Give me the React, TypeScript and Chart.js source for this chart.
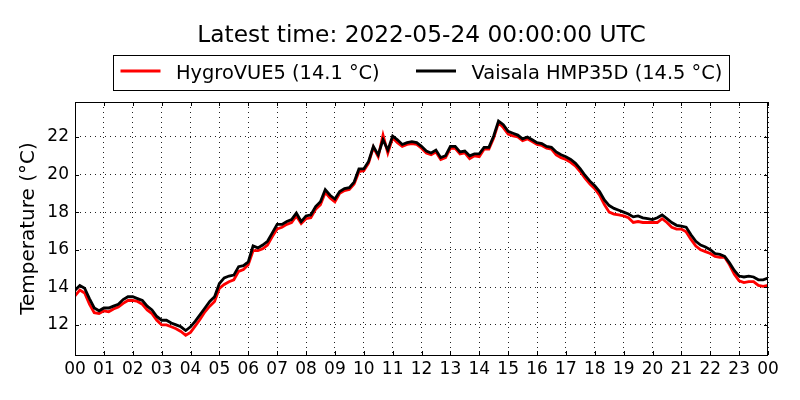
import { useEffect, useRef } from 'react';
import Chart from 'chart.js/auto';

// 10-minute readings, 00:00 to 24:00 (145 values)
const hygroVUE5 = [
  13.55, 13.85, 13.7, 13.1, 12.65, 12.6,
  12.75, 12.7, 12.85, 12.95, 13.15, 13.3,
  13.3, 13.25, 13.1, 12.8, 12.6, 12.25,
  12.0, 12.0, 11.9, 11.8, 11.65, 11.45,
  11.6, 11.95, 12.3, 12.7, 13.0, 13.25,
  13.95, 14.15, 14.3, 14.4, 14.85, 14.95,
  15.2, 15.95, 15.95, 16.05, 16.25, 16.7,
  17.1, 17.2, 17.35, 17.45, 17.8, 17.4,
  17.65, 17.7, 18.15, 18.4, 19.05, 18.75,
  18.55, 19.0, 19.15, 19.2, 19.5, 20.15,
  20.2, 20.6, 21.45, 20.95, 22.1, 21.15,
  21.95, 21.7, 21.5, 21.6, 21.65, 21.6,
  21.4, 21.15, 21.05, 21.2, 20.8, 20.9,
  21.4, 21.4, 21.1, 21.15, 20.85, 21.0,
  20.95, 21.35, 21.35, 21.95, 22.75, 22.5,
  22.15, 22.05, 22.0, 21.8, 21.9, 21.75,
  21.6, 21.55, 21.4, 21.35, 21.05, 20.9,
  20.8, 20.65, 20.45, 20.15, 19.8, 19.5,
  19.25, 18.9, 18.4, 18.0, 17.9, 17.85,
  17.8, 17.7, 17.45, 17.5, 17.45, 17.45,
  17.45, 17.45, 17.65, 17.45, 17.2, 17.1,
  17.1, 16.95, 16.55, 16.2, 16.0, 15.9,
  15.8, 15.65, 15.6, 15.6, 15.2, 14.7,
  14.35, 14.25, 14.3, 14.3, 14.1, 14.05,
  14.1,
];

const vaisalaHMP35D = [
  13.85, 14.1, 13.95, 13.4, 12.9, 12.75,
  12.9, 12.9, 13.0, 13.1, 13.35, 13.5,
  13.5, 13.4, 13.3, 13.0, 12.8, 12.45,
  12.25, 12.25, 12.1, 12.0, 11.9, 11.7,
  11.9, 12.2, 12.55, 12.9, 13.25, 13.5,
  14.2, 14.5, 14.6, 14.65, 15.1, 15.15,
  15.35, 16.2, 16.1, 16.25, 16.45, 16.9,
  17.35, 17.35, 17.5, 17.6, 17.95, 17.5,
  17.8, 17.85, 18.3, 18.55, 19.2, 18.9,
  18.7, 19.1, 19.25, 19.3, 19.6, 20.3,
  20.3, 20.7, 21.5, 21.05, 21.85, 21.3,
  22.05, 21.85, 21.6, 21.7, 21.75, 21.7,
  21.5, 21.25, 21.15, 21.3, 20.9, 21.0,
  21.5, 21.5, 21.2, 21.25, 21.0, 21.1,
  21.1, 21.45, 21.45, 22.05, 22.85, 22.65,
  22.3, 22.2, 22.1, 21.9, 22.0, 21.85,
  21.7, 21.65, 21.5, 21.45, 21.2, 21.05,
  20.95, 20.8, 20.6, 20.3, 19.95, 19.65,
  19.4, 19.1, 18.65, 18.35, 18.2, 18.1,
  18.0, 17.9, 17.75, 17.8, 17.7, 17.65,
  17.6, 17.7, 17.85, 17.65, 17.45, 17.3,
  17.25, 17.2, 16.8, 16.45, 16.25, 16.15,
  16.0, 15.8, 15.75, 15.65, 15.3, 14.9,
  14.6, 14.55, 14.6, 14.55, 14.4, 14.4,
  14.5,
];

const hours = hygroVUE5.map((_, i) => i / 6);
const seriesNames = ['HygroVUE5 (14.1 °C)', 'Vaisala HMP35D (14.5 °C)'];
const seriesColors = ['#ff0000', '#000000'];
const titleText = 'Latest time: 2022-05-24 00:00:00 UTC';
const yLabel = 'Temperature (°C)';

const FONT = '"DejaVu Sans", sans-serif';

// matplotlib-ish frame, inward ticks, title and boxed legend
const decorations = {
  id: 'decorations',
  afterDraw(chart: any) {
    const { ctx, chartArea: a, scales } = chart;
    ctx.save();
    ctx.setLineDash([]);
    ctx.strokeStyle = '#000';
    ctx.lineWidth = 1;
    ctx.strokeRect(a.left + 0.5, a.top + 0.5, a.right - a.left - 1, a.bottom - a.top);

    ctx.beginPath();
    scales.x.ticks.forEach((t: any) => {
      const px = Math.round(scales.x.getPixelForValue(t.value)) + 0.5;
      ctx.moveTo(px, a.bottom);
      ctx.lineTo(px, a.bottom - 4);
      ctx.moveTo(px, a.top);
      ctx.lineTo(px, a.top + 4);
    });
    scales.y.ticks.forEach((t: any) => {
      const py = Math.round(scales.y.getPixelForValue(t.value)) + 0.5;
      ctx.moveTo(a.left, py);
      ctx.lineTo(a.left + 4, py);
      ctx.moveTo(a.right, py);
      ctx.lineTo(a.right - 4, py);
    });
    ctx.stroke();

    ctx.fillStyle = '#000';
    ctx.textBaseline = 'alphabetic';
    ctx.textAlign = 'center';
    ctx.font = `23.3px ${FONT}`;
    ctx.fillText(titleText, (a.left + a.right) / 2, 41.5);

    // legend
    ctx.strokeRect(113.5, 55.5, 616, 35);
    ctx.textAlign = 'left';
    ctx.font = `19.4px ${FONT}`;
    const starts = [120.5, 416];
    chart.data.datasets.forEach((ds: any, i: number) => {
      ctx.strokeStyle = ds.borderColor;
      ctx.lineWidth = 2.8;
      ctx.beginPath();
      ctx.moveTo(starts[i], 71);
      ctx.lineTo(starts[i] + 40, 71);
      ctx.stroke();
      ctx.fillText(ds.label, starts[i] + 55.5, 79);
    });
    ctx.restore();
  },
};

export default function App() {
  const canvasRef = useRef<HTMLCanvasElement>(null);
  const chartRef = useRef<Chart | null>(null);

  useEffect(() => {
    document.body.style.margin = '0';
    if (!canvasRef.current) return;
    const ctx = canvasRef.current.getContext('2d');
    if (!ctx) return;

    if (chartRef.current) chartRef.current.destroy();

    const tickFont = { family: FONT, size: 17 };

    chartRef.current = new Chart(ctx, {
      type: 'line',
      data: {
        datasets: [hygroVUE5, vaisalaHMP35D].map((vals, i) => ({
          label: seriesNames[i],
          data: vals.map((v, j) => ({ x: hours[j], y: v })),
          borderColor: seriesColors[i],
          backgroundColor: seriesColors[i],
          borderWidth: 2.8,
          pointRadius: 0,
          tension: 0,
          order: i === 0 ? 1 : 0,
        })),
      },
      options: {
        responsive: false,
        animation: false,
        layout: { padding: { top: 102, right: 32, left: 0, bottom: 0 } },
        plugins: {
          legend: { display: false },
          title: { display: false },
          tooltip: { enabled: false },
        },
        scales: {
          x: {
            type: 'linear',
            min: 0,
            max: 24,
            afterFit: (s: any) => { s.height = 45; },
            ticks: {
              stepSize: 1,
              autoSkip: false,
              maxRotation: 0,
              padding: 4,
              color: '#000',
              font: tickFont,
              callback: (v: any) => String(Number(v) % 24).padStart(2, '0'),
            },
            grid: { color: '#222', lineWidth: 1, drawTicks: false },
            border: { display: false, dash: [1, 4] },
          },
          y: {
            min: 10.4,
            max: 23.86,
            afterFit: (s: any) => { s.width = 75; },
            ticks: {
              stepSize: 2,
              includeBounds: false,
              padding: 6,
              color: '#000',
              font: tickFont,
            },
            grid: { color: '#222', lineWidth: 1, drawTicks: false },
            border: { display: false, dash: [1, 4] },
            title: {
              display: true,
              text: yLabel,
              color: '#000',
              font: { family: FONT, size: 20 },
              padding: { top: 17, bottom: 0 },
            },
          },
        },
      },
      plugins: [decorations],
    });

    return () => {
      if (chartRef.current) {
        chartRef.current.destroy();
        chartRef.current = null;
      }
    };
  }, []);

  return (
    <div style={{ width: 800, height: 400, background: '#fff' }}>
      <canvas ref={canvasRef} width={800} height={400} />
    </div>
  );
}
